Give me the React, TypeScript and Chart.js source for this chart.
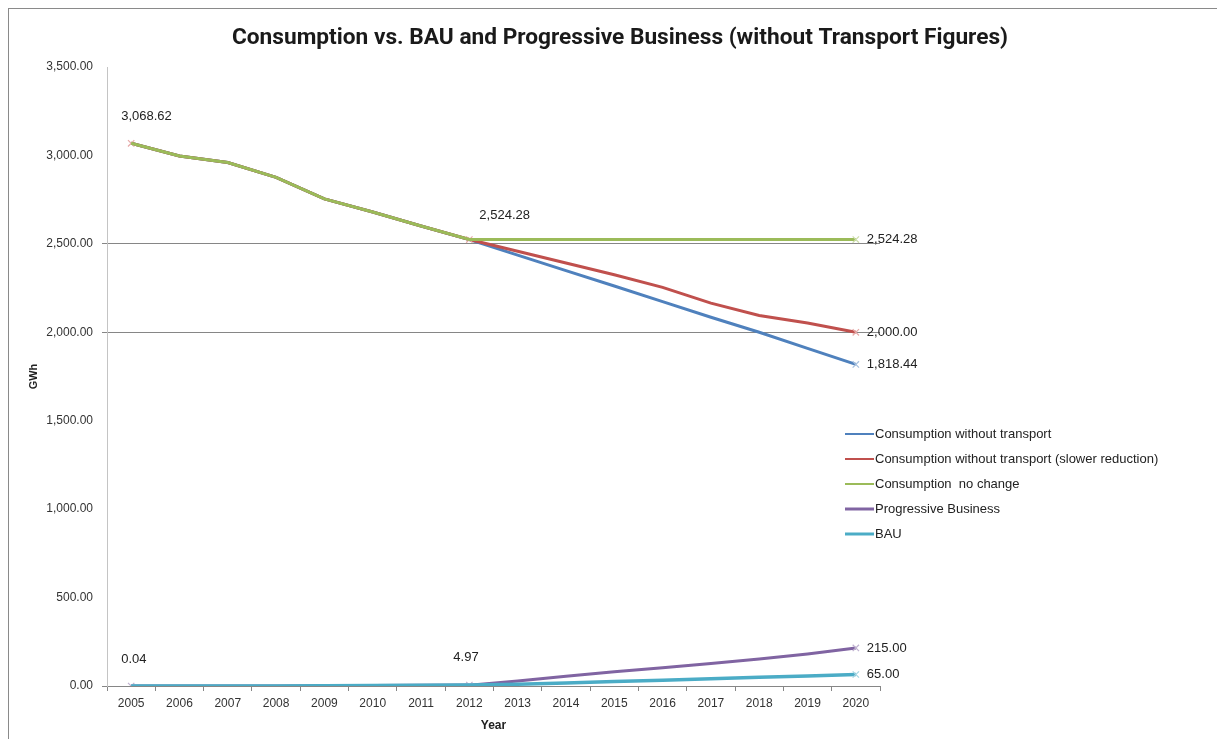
import React, { useEffect, useRef } from "react";
import { Chart, registerables } from "chart.js";

Chart.register(...registerables);

const years = ["2005","2006","2007","2008","2009","2010","2011","2012","2013","2014","2015","2016","2017","2018","2019","2020"];
const consumptionWithoutTransport = [3068.62, 2997, 2960, 2876, 2754, 2680, 2601, 2524.28, 2436, 2349, 2262, 2173, 2085, 2000, 1909, 1818.44];
const consumptionSlowerReduction = [3068.62, 2997, 2960, 2876, 2754, 2680, 2601, 2524.28, 2458, 2392, 2325, 2254, 2165, 2095, 2052, 2000.0];
const consumptionNoChange = [3068.62, 2997, 2960, 2876, 2754, 2680, 2601, 2524.28, 2524.28, 2524.28, 2524.28, 2524.28, 2524.28, 2524.28, 2524.28, 2524.28];
const progressiveBusiness = [0.04, 0.1, 0.2, 0.5, 2, 3, 4, 4.97, 28, 55, 80, 103, 127, 152, 181, 215.0];
const bau = [0.04, 0.1, 0.2, 0.5, 2, 3, 4, 4.97, 10, 17, 25, 33, 41, 49, 57, 65.0];
const yTicks = [0, 500, 1000, 1500, 2000, 2500, 3000, 3500];
const gridValues = [0, 2000, 2500];

const seriesNames = [
  "Consumption without transport",
  "Consumption without transport (slower reduction)",
  "Consumption  no change",
  "Progressive Business",
  "BAU",
];
const seriesData = [consumptionWithoutTransport, consumptionSlowerReduction, consumptionNoChange, progressiveBusiness, bau];
// which points carry a marker / value label
const labelled: { index: number; pos: string }[][] = [
  [{ index: 15, pos: "right" }],
  [{ index: 0, pos: "above" }, { index: 7, pos: "aboveRight" }, { index: 15, pos: "right" }],
  [{ index: 15, pos: "right" }],
  [{ index: 0, pos: "above" }, { index: 7, pos: "aboveLeft" }, { index: 15, pos: "right" }],
  [{ index: 15, pos: "right" }],
];

const lineColors = ["#4F81BD", "#C0504D", "#9BBB59", "#8064A2", "#4BACC6"];
const markerColors = ["#A7C0DE", "#E6A9A8", "#CDDDAC", "#BFB1D0", "#A5D5E2"];
const lineWidths = [3, 3, 3, 3, 3.5];
const legendWidths = [2, 2, 2, 3, 3];
const drawOrder = [4, 3, 2, 1, 0];

const fmt = (v: number) =>
  v.toLocaleString("en-US", { minimumFractionDigits: 2, maximumFractionDigits: 2 });

const offsets: Record<string, [number, number, CanvasTextAlign]> = {
  right: [11, 0, "left"],
  above: [-10, -27, "left"],
  aboveRight: [10, -24, "left"],
  aboveLeft: [-16, -28, "left"],
};

const overlayPlugin = {
  id: "overlay",
  afterDatasetsDraw(chart: any) {
    const ctx = chart.ctx;
    ctx.save();
    ctx.font = '13px "Liberation Sans", Arial, sans-serif';
    ctx.fillStyle = "#222";
    ctx.textBaseline = "middle";
    labelled.forEach((specs, di) => {
      const meta = chart.getDatasetMeta(di);
      specs.forEach((s) => {
        const pt = meta.data[s.index];
        const [dx, dy, align] = offsets[s.pos];
        ctx.textAlign = align;
        ctx.fillText(fmt(seriesData[di][s.index]), pt.x + dx, pt.y + dy);
      });
    });
    ctx.restore();
  },
  afterDraw(chart: any) {
    const ctx = chart.ctx;
    const area = chart.chartArea;
    ctx.save();
    // title
    ctx.font = 'bold 22.7px Roboto, "Liberation Sans", sans-serif';
    ctx.fillStyle = "#1a1a1a";
    ctx.textAlign = "center";
    ctx.textBaseline = "middle";
    ctx.fillText("Consumption vs. BAU and Progressive Business (without Transport Figures)", 611, 29);
    // legend
    ctx.font = '13px "Liberation Sans", Arial, sans-serif';
    ctx.textAlign = "left";
    const x0 = area.right - 35;
    const y0 = area.top + 367;
    chart.data.datasets.forEach((ds: any, i: number) => {
      const y = y0 + i * 25;
      ctx.strokeStyle = ds.borderColor;
      ctx.lineWidth = legendWidths[i];
      ctx.beginPath();
      ctx.moveTo(x0, y);
      ctx.lineTo(x0 + 29, y);
      ctx.stroke();
      ctx.fillStyle = "#222";
      ctx.fillText(ds.label, x0 + 30, y);
    });
    ctx.restore();
  },
};

export default function App() {
  const ref = useRef<HTMLCanvasElement>(null);
  useEffect(() => {
    if (!ref.current) return;
    const datasets = seriesNames.map((name, i) => ({
      label: name,
      data: seriesData[i],
      borderColor: lineColors[i],
      backgroundColor: lineColors[i],
      borderWidth: lineWidths[i],
      pointStyle: "crossRot" as const,
      pointRadius: seriesData[i].map((_, j) => (labelled[i].some((s) => s.index === j) ? 4.5 : 0)),
      pointBorderColor: markerColors[i],
      pointBackgroundColor: markerColors[i],
      pointBorderWidth: 1.2,
      pointHoverRadius: 0,
      tension: 0,
      order: drawOrder[i],
      fill: false,
    }));
    const chart = new Chart(ref.current, {
      type: "line",
      data: { labels: years, datasets },
      plugins: [overlayPlugin],
      options: {
        animation: false,
        responsive: true,
        maintainAspectRatio: false,
        events: [],
        layout: { padding: { top: 58, right: 337, left: 0, bottom: 0 } },
        plugins: { legend: { display: false }, title: { display: false }, tooltip: { enabled: false } },
        scales: {
          x: {
            offset: true,
            afterFit: (scale: any) => { scale.height = 53; },
            grid: { drawOnChartArea: false, drawTicks: true, tickLength: 5, color: "#868686", offset: true },
            border: { color: "#868686", width: 1 },
            ticks: { color: "#333", font: { family: '"Liberation Sans", Arial, sans-serif', size: 12 }, padding: 5, maxRotation: 0 },
            title: { display: true, text: "Year", color: "#222", font: { family: '"Liberation Sans", Arial, sans-serif', size: 12, weight: "bold" }, padding: { top: 0, bottom: 6 } },
          },
          y: {
            min: 0,
            max: 3500,
            afterFit: (scale: any) => { scale.width = 98; },
            afterBuildTicks: (scale: any) => { scale.ticks = yTicks.map((v) => ({ value: v })); },
            grid: {
              color: (c: any) => (c.tick && gridValues.includes(c.tick.value) ? "#868686" : "rgba(0,0,0,0)"),
              tickColor: (c: any) => (c.tick && gridValues.includes(c.tick.value) ? "#868686" : "rgba(0,0,0,0)"),
              tickLength: 5,
              drawTicks: true,
            },
            border: { color: "#C4C4C4", width: 1 },
            ticks: {
              color: "#333",
              font: { family: '"Liberation Sans", Arial, sans-serif', size: 12 },
              padding: 9,
              callback: (v: any) => fmt(Number(v)),
            },
            title: { display: true, text: "GWh", color: "#222", font: { family: '"Liberation Sans", Arial, sans-serif', size: 11, weight: "bold" }, padding: { top: 18, bottom: 0 } },
          },
        },
      },
    });
    return () => chart.destroy();
  }, []);
  return (
    <div
      style={{
        width: 1209,
        height: 731,
        position: "relative",
        boxSizing: "border-box",
        borderLeft: "1px solid #8a8a8a",
        borderTop: "1px solid #8a8a8a",
        background: "#fff",
      }}
    >
      <canvas ref={ref} />
    </div>
  );
}
